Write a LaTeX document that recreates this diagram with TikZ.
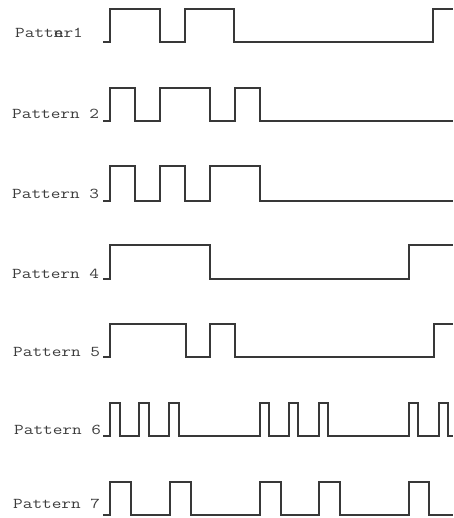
\documentclass[tikz,border=0pt]{standalone}
\usepackage{fontspec}
\definecolor{wave}{HTML}{383838}
\definecolor{labcol}{HTML}{3c3c3c}
\newcommand{\labtext}[1]{\scalebox{1.25}[1]{\fontsize{15}{17}\selectfont\ttfamily #1}}
\tikzset{
  sig/.style={draw=wave, line width=2.5pt, line join=miter},
  lab/.style={anchor=base west, inner sep=0pt, text=labcol}
}
\begin{document}
\begin{tikzpicture}[x=1pt,y=-1pt]
\useasboundingbox (0,0) rectangle (453,518);
% Pattern 1
\node[lab] (l1) at (15,38) {\labtext{Patt\rlap{e}nr1}};
\draw[sig] (103,42) -- (110,42) -- (110,9) -- (160,9) -- (160,42) -- (185,42) -- (185,9) -- (234,9) -- (234,42) -- (433,42) -- (433,9) -- (453,9);
% Pattern 2
\node[lab] (l2) at (12,119) {\labtext{Pattern 2}};
\draw[sig] (103,121) -- (110,121) -- (110,88) -- (135,88) -- (135,121) -- (160,121) -- (160,88) -- (210,88) -- (210,121) -- (235,121) -- (235,88) -- (260,88) -- (260,121) -- (453,121);
% Pattern 3
\node[lab] (l3) at (12,199) {\labtext{Pattern 3}};
\draw[sig] (103,201) -- (110,201) -- (110,166) -- (135,166) -- (135,201) -- (160,201) -- (160,166) -- (185,166) -- (185,201) -- (210,201) -- (210,166) -- (260,166) -- (260,201) -- (453,201);
% Pattern 4
\node[lab] (l4) at (12,278) {\labtext{Pattern 4}};
\draw[sig] (103,279) -- (110,279) -- (110,245) -- (210,245) -- (210,279) -- (409,279) -- (409,245) -- (453,245);
% Pattern 5
\node[lab] (l5) at (13,356) {\labtext{Pattern 5}};
\draw[sig] (103,357) -- (110,357) -- (110,324) -- (186,324) -- (186,357) -- (210,357) -- (210,324) -- (235,324) -- (235,357) -- (434,357) -- (434,324) -- (453,324);
% Pattern 6
\node[lab] (l6) at (14,434) {\labtext{Pattern 6}};
\draw[sig] (103,436) -- (110,436) -- (110,403) -- (120,403) -- (120,436) -- (139,436) -- (139,403) -- (149,403) -- (149,436) -- (169,436) -- (169,403) -- (179,403) -- (179,436)
  -- (260,436) -- (260,403) -- (269,403) -- (269,436) -- (289,436) -- (289,403) -- (298,403) -- (298,436) -- (319,436) -- (319,403) -- (328,403) -- (328,436)
  -- (409,436) -- (409,403) -- (418,403) -- (418,436) -- (439,436) -- (439,403) -- (448,403) -- (448,436) -- (453,436);
% Pattern 7
\node[lab] (l7) at (13,508) {\labtext{Pattern 7}};
\draw[sig] (103,515) -- (110,515) -- (110,482) -- (131,482) -- (131,515) -- (170,515) -- (170,482) -- (191,482) -- (191,515) -- (260,515) -- (260,482) -- (281,482) -- (281,515)
  -- (319,515) -- (319,482) -- (340,482) -- (340,515) -- (409,515) -- (409,482) -- (429,482) -- (429,515) -- (453,515);
\end{tikzpicture}
\end{document}
